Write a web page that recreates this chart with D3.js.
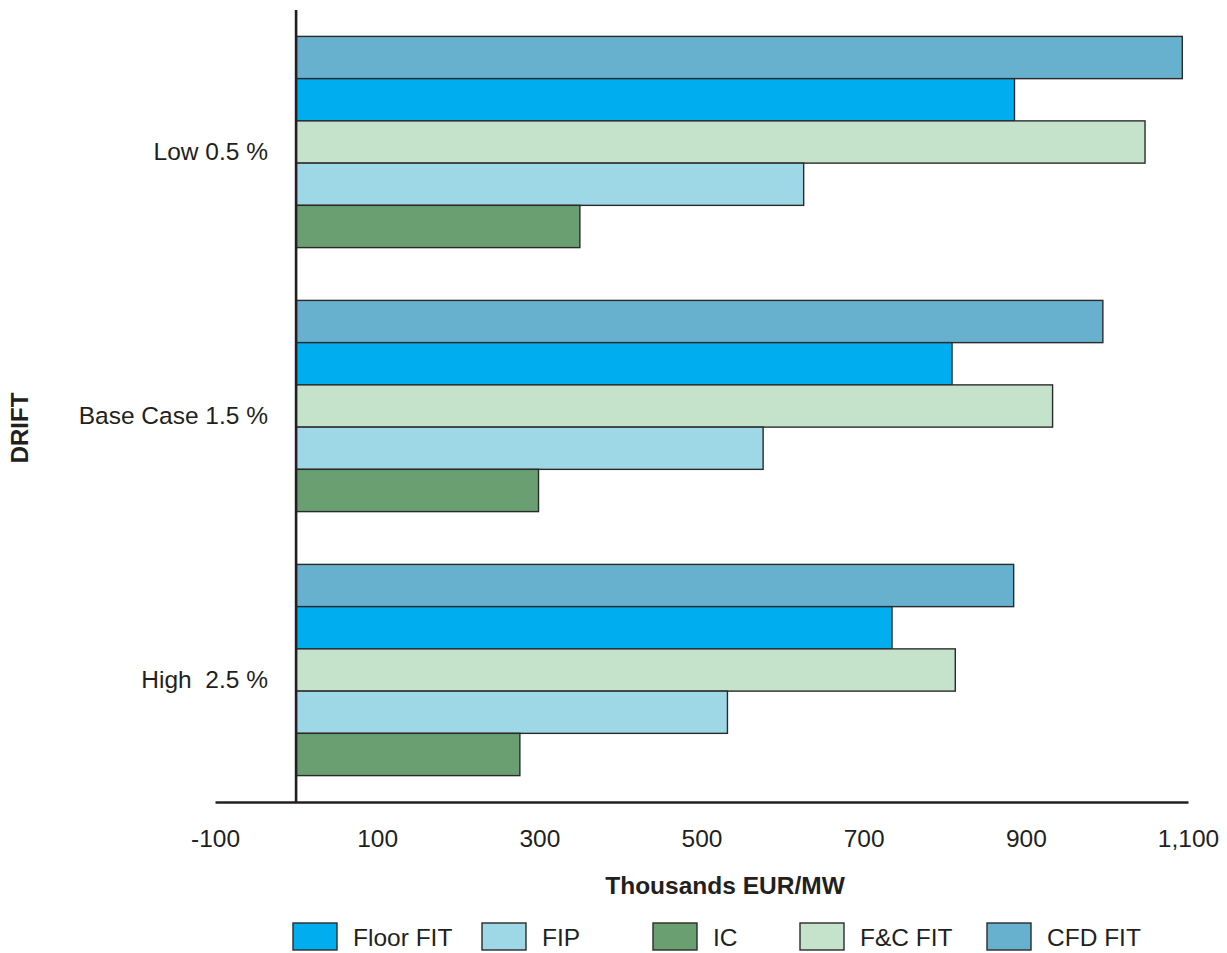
<!DOCTYPE html>
<html>
<head>
<meta charset="utf-8">
<script src="https://cdn.jsdelivr.net/npm/d3@7/dist/d3.min.js"></script>
<style>
  html, body { margin: 0; padding: 0; background: #fff; }
  svg { display: block; font-family: "Liberation Sans", Arial, Helvetica, sans-serif; }
</style>
</head>
<body>
<svg id="chart" width="1227" height="953"></svg>
<script>
// Drift scenarios (top to bottom)
const categories = ["Low 0.5 %", "Base Case 1.5 %", "High  2.5 %"];
// Support schemes, drawn top to bottom inside each scenario
const seriesOrder = ["CFD FIT", "Floor FIT", "F&C FIT", "FIP", "IC"];
// Values in thousands EUR/MW, one per scenario
const cfdFit   = [1093, 995, 885];
const floorFit = [886, 809, 735];
const fcFit    = [1047, 933, 813];
const fip      = [626, 576, 532];
const ic       = [350, 299, 276];
// Axis ticks
const tickValues = [-100, 100, 300, 500, 700, 900, 1100];
// Legend order
const legendOrder = ["Floor FIT", "FIP", "IC", "F&C FIT", "CFD FIT"];

const seriesValues = {
  "CFD FIT": cfdFit, "Floor FIT": floorFit, "F&C FIT": fcFit, "FIP": fip, "IC": ic
};
const colors = {
  "CFD FIT": "#67b1cf", "Floor FIT": "#00adee", "F&C FIT": "#c5e2ca",
  "FIP": "#9ed8e6", "IC": "#6a9f71"
};

const svg = d3.select("#chart");
const textColor = "#231f20";
const fontFamily = "Liberation Sans, Arial, Helvetica, sans-serif";

const x = d3.scaleLinear().domain([-100, 1100]).range([215, 1188]);
const y0 = d3.scaleBand().domain(categories).range([10, 802])
  .paddingInner(0.2).paddingOuter(0.1);
const y1 = d3.scaleBand().domain(seriesOrder).range([0, y0.bandwidth()]);

// Bars
const groups = svg.append("g").selectAll("g")
  .data(categories)
  .join("g")
  .attr("transform", d => `translate(0,${y0(d)})`);

groups.selectAll("rect")
  .data((c, i) => seriesOrder.map(s => ({ s, v: seriesValues[s][i] })))
  .join("rect")
  .attr("x", x(0))
  .attr("y", d => y1(d.s))
  .attr("width", d => x(d.v) - x(0))
  .attr("height", y1.bandwidth())
  .attr("fill", d => colors[d.s])
  .attr("stroke", "#2b2b2b")
  .attr("stroke-width", 1.4);

// Category labels
svg.append("g").selectAll("text")
  .data(categories)
  .join("text")
  .attr("x", 268)
  .attr("y", d => y0(d) + y0.bandwidth() / 2 + 9)
  .attr("dy", "0.35em")
  .attr("text-anchor", "end")
  .attr("font-size", 24.5)
  .attr("fill", textColor)
  .style("white-space", "pre")
  .text(d => d);

// Horizontal axis
const commaFmt = d3.format(",");
const xAxis = d3.axisBottom(x)
  .tickValues(tickValues)
  .tickSize(0)
  .tickPadding(0)
  .tickFormat(d => commaFmt(d).replace("\u2212", "-"));
const gx = svg.append("g").attr("transform", "translate(0,802)").call(xAxis);
gx.select(".domain").attr("stroke", "#231f20").attr("stroke-width", 2.6);
gx.selectAll(".tick text")
  .attr("y", 36)
  .attr("dy", "0.35em")
  .attr("font-size", 24.5)
  .attr("font-family", fontFamily)
  .attr("fill", textColor);

// Vertical zero line
svg.append("line")
  .attr("x1", x(0)).attr("x2", x(0))
  .attr("y1", 10).attr("y2", 802)
  .attr("stroke", "#231f20")
  .attr("stroke-width", 2.6);

// Axis titles
svg.append("text")
  .attr("x", 725)
  .attr("y", 885)
  .attr("dy", "0.35em")
  .attr("text-anchor", "middle")
  .attr("font-size", 24.5)
  .attr("font-weight", "bold")
  .attr("fill", textColor)
  .text("Thousands EUR/MW");

svg.append("text")
  .attr("transform", "translate(20,428) rotate(-90)")
  .attr("dy", "0.35em")
  .attr("text-anchor", "middle")
  .attr("font-size", 24)
  .attr("font-weight", "bold")
  .attr("fill", textColor)
  .text("DRIFT");

// Legend
const legendX = [293, 482, 653, 800, 987];
const legend = svg.append("g").selectAll("g")
  .data(legendOrder)
  .join("g")
  .attr("transform", (d, i) => `translate(${legendX[i]},923)`);
legend.append("rect")
  .attr("width", 44).attr("height", 27)
  .attr("fill", d => colors[d])
  .attr("stroke", "#2b2b2b")
  .attr("stroke-width", 1.4);
legend.append("text")
  .attr("x", 60).attr("y", 14)
  .attr("dy", "0.35em")
  .attr("font-size", 24.5)
  .attr("fill", textColor)
  .text(d => d);
</script>
</body>
</html>
